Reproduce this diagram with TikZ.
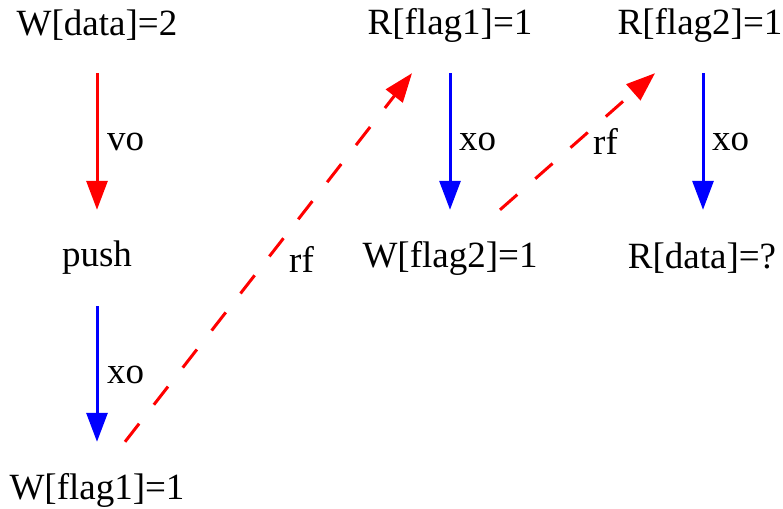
\documentclass[tikz,border=0pt]{standalone}
\usepackage{fontspec}
\setmainfont{Liberation Serif}
\usetikzlibrary{arrows.meta}
\begin{document}
\begin{tikzpicture}[x=1pt,y=-1pt,
  ev/.style={inner sep=0pt,minimum height=96pt,font=\fontsize{37}{40}\selectfont},
  lbl/.style={inner sep=0pt,anchor=west,font=\fontsize{37}{40}\selectfont},
  edge/.style={line width=3pt,-{Triangle[length=29pt,width=21pt]}},
  redge/.style={edge,draw=red},
  bedge/.style={edge,draw=blue},
  rfedge/.style={redge,dash pattern=on 23pt off 24pt}]
\useasboundingbox (0,0) rectangle (783,508);
\node[ev] (wd) at (97,25) {W[data]=2};
\node[ev] (push) at (97,258) {push};
\node[ev] (wf1) at (97,490) {W[flag1]=1};
\node[ev] (rf1) at (450,25) {R[flag1]=1};
\node[ev] (wf2) at (450,258) {W[flag2]=1};
\node[ev] (rf2) at (700,25) {R[flag2]=1};
\node[ev] (rd) at (702,258) {R[data]=?};
\draw[redge] (wd.south) -- (push.north);
\draw[bedge] (push.south) -- (wf1.north);
\draw[rfedge] ([xshift=28pt]wf1.north) -- ([xshift=-38pt]rf1.south);
\draw[bedge] (rf1.south) -- (wf2.north);
\draw[rfedge] ([xshift=50pt]wf2.north) -- ([xshift=-45pt]rf2.south);
\draw[bedge] ([xshift=3pt]rf2.south) -- ([xshift=1pt]rd.north);
\node[lbl] (l1) at (107,142) {vo};
\node[lbl] (l2) at (107,375) {xo};
\node[lbl] (l3) at (289,259) {rf};
\node[lbl] (l4) at (459,142) {xo};
\node[lbl] (l5) at (593,141) {rf};
\node[lbl] (l6) at (712,142) {xo};
\end{tikzpicture}
\end{document}
